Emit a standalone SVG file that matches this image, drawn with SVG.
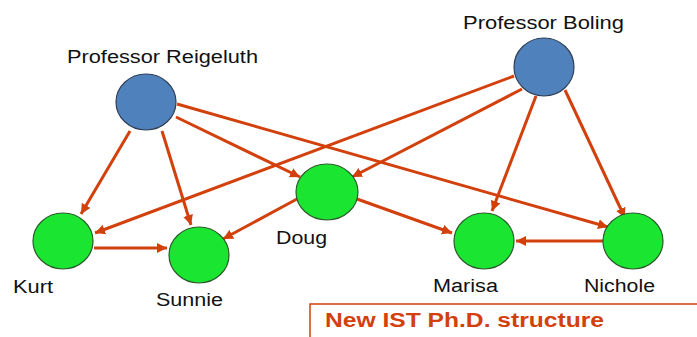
<svg xmlns="http://www.w3.org/2000/svg" width="697" height="337" viewBox="0 0 697 337">
<style>
.prof{fill:#4f81bd;stroke:#2f3f55;stroke-width:1.2}
.stu{fill:#1ae632;stroke:#2a5a2a;stroke-width:1.2}
.lbl{font-family:"Liberation Sans",Arial,sans-serif;font-size:18px;fill:#111}
.edge{stroke:#d2400c;stroke-width:3;fill:none;marker-end:url(#ah)}
.title{font-family:"Liberation Sans",Arial,sans-serif;font-size:20px;font-weight:bold;fill:#d2400c}
</style>
<defs>
<marker id="ah" markerUnits="userSpaceOnUse" markerWidth="12" markerHeight="10" refX="10" refY="5" orient="auto">
<path d="M0,0 L10,5 L0,10 Z" fill="#d2400c"/>
</marker>
</defs>
<rect width="697" height="337" fill="#fff"/>
<g id="connectors">
<line class="edge" x1="130" y1="131" x2="81" y2="214"/>
<line class="edge" x1="162" y1="131" x2="191" y2="225"/>
<line class="edge" x1="176" y1="117" x2="300" y2="177"/>
<line class="edge" x1="177" y1="104" x2="608" y2="227"/>
<line class="edge" x1="514" y1="76" x2="95" y2="233"/>
<line class="edge" x1="522" y1="89" x2="352" y2="177"/>
<line class="edge" x1="536" y1="96" x2="492" y2="211"/>
<line class="edge" x1="565" y1="90" x2="625" y2="218"/>
<line class="edge" x1="297" y1="199" x2="223" y2="239"/>
<line class="edge" x1="357" y1="199" x2="452" y2="233"/>
<line class="edge" x1="94" y1="248" x2="167" y2="248"/>
<line class="edge" x1="603" y1="241" x2="516" y2="241"/>
</g>
<g id="reigeluth">
<ellipse class="prof" cx="146" cy="102" rx="30" ry="28"/>
<text class="lbl" x="67" y="63" textLength="191" lengthAdjust="spacingAndGlyphs">Professor Reigeluth</text>
</g>
<g id="boling">
<ellipse class="prof" cx="544" cy="67" rx="30" ry="29"/>
<text class="lbl" x="463" y="29" textLength="161" lengthAdjust="spacingAndGlyphs">Professor Boling</text>
</g>
<g id="kurt">
<ellipse class="stu" cx="63" cy="241" rx="30" ry="28"/>
<text class="lbl" x="13" y="293" textLength="40" lengthAdjust="spacingAndGlyphs">Kurt</text>
</g>
<g id="sunnie">
<ellipse class="stu" cx="199" cy="255" rx="30" ry="28"/>
<text class="lbl" x="156" y="306" textLength="67" lengthAdjust="spacingAndGlyphs">Sunnie</text>
</g>
<g id="doug">
<ellipse class="stu" cx="327" cy="192" rx="31" ry="28"/>
<text class="lbl" x="276" y="244" textLength="51" lengthAdjust="spacingAndGlyphs">Doug</text>
</g>
<g id="marisa">
<ellipse class="stu" cx="484" cy="241" rx="30" ry="28"/>
<text class="lbl" x="433" y="292" textLength="65" lengthAdjust="spacingAndGlyphs">Marisa</text>
</g>
<g id="nichole">
<ellipse class="stu" cx="633" cy="241" rx="30" ry="28"/>
<text class="lbl" x="584" y="292" textLength="71" lengthAdjust="spacingAndGlyphs">Nichole</text>
</g>
<g id="title">
<path d="M310,337 L310,304 L697,304" fill="none" stroke="#d2400c" stroke-width="1.5"/>
<text class="title" x="325" y="327" textLength="279" lengthAdjust="spacingAndGlyphs">New IST Ph.D. structure</text>
</g>
</svg>
